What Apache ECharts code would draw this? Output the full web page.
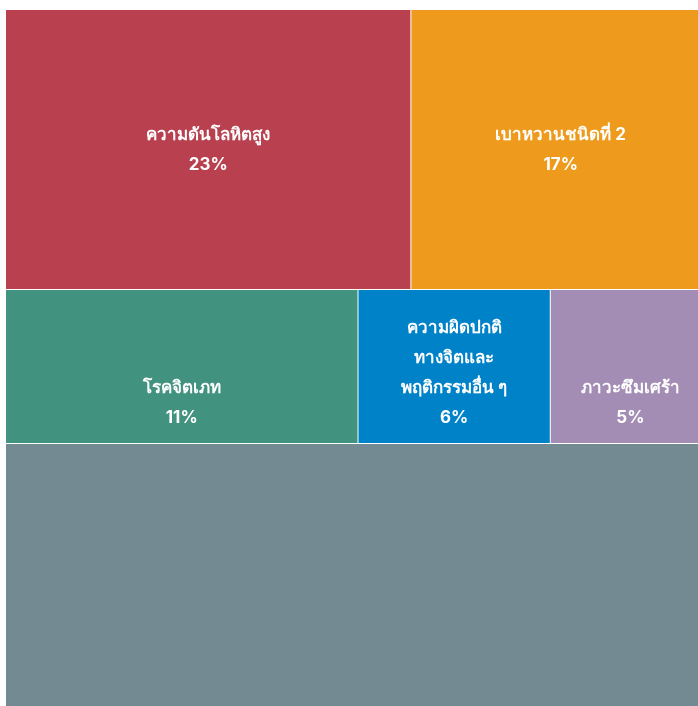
<!DOCTYPE html>
<html>
<head>
<meta charset="utf-8">
<script src="https://cdn.jsdelivr.net/npm/echarts@6/dist/echarts.min.js"></script>
<style>
  html, body { margin: 0; padding: 0; background: #fff; overflow: hidden; }
  #chart { width: 716px; height: 720px; }
</style>
</head>
<body>
<div id="chart"></div>
<script>
// disease share (%), grouped into treemap rows
const names = [
  "ความดันโลหิตสูง",
  "เบาหวานชนิดที่ 2",
  "โรคจิตเภท",
  "ความผิดปกติ\nทางจิตและ\nพฤติกรรมอื่น ๆ",
  "ภาวะซึมเศร้า",
  "อื่น ๆ"
];
const values = [23, 17, 11, 6, 5, 38];
const rowOf = [0, 0, 1, 1, 1, 2];
const showLabel = [true, true, true, true, true, false];
const colors = ["#b8404f", "#ee9b1d", "#41927e", "#0082c8", "#a38db5", "#738a93"];

const chart = echarts.init(document.getElementById("chart"));

const boxTop = 10;
const boxHeight = 700;
const lineH = 30;
const total = values.reduce((a, b) => a + b, 0);
const rowCount = Math.max(...rowOf) + 1;
const nLines = (i) => names[i].split("\n").length + 1;

const series = [];
let offset = 0;
for (let r = 0; r < rowCount; r++) {
  const idx = values.map((v, i) => i).filter((i) => rowOf[i] === r);
  const rowSum = idx.reduce((s, i) => s + values[i], 0);
  const h = (boxHeight * rowSum) / total;
  // labels in one row share their last line
  const maxLines = Math.max(...idx.filter((i) => showLabel[i]).map(nLines), 0);
  series.push({
    type: "treemap",
    left: 6,
    right: 6,
    top: boxTop + offset,
    height: h - 1,
    roam: false,
    nodeClick: false,
    sort: false,
    squareRatio: 1,
    animation: false,
    breadcrumb: { show: false },
    levels: [{ itemStyle: { gapWidth: 1, borderWidth: 0, borderColor: "#fff" } }],
    label: {
      show: true,
      position: "inside",
      color: "#fff",
      fontSize: 17,
      fontWeight: "bold",
      lineHeight: lineH,
      align: "center",
      offset: [0, maxLines > 2 ? 6 : 0],
      fontFamily: "Inter, Roboto, 'Noto Sans', sans-serif",
      formatter: (p) => {
        const i = names.indexOf(p.name);
        return "\n".repeat(maxLines - nLines(i)) + p.name + "\n" + p.value + "%";
      },
    },
    upperLabel: { show: false },
    data: idx.map((i) => ({
      name: names[i],
      value: values[i],
      itemStyle: { color: colors[i] },
      label: { show: showLabel[i] },
    })),
  });
  offset += h;
}

chart.setOption({ series: series });
</script>
</body>
</html>
